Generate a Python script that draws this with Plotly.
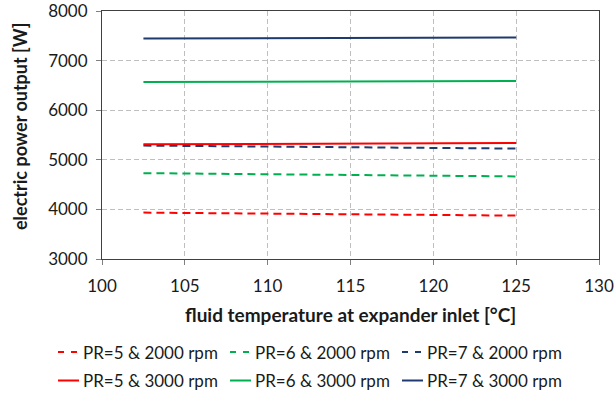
import plotly.graph_objects as go

# Fluid temperature at expander inlet [°C]
temperature = [102.5, 107.5, 112.5, 117.5, 122.5, 125.0]

# Electric power output [W] per pressure ratio and rotational speed
pr5_2000 = [3935, 3922, 3910, 3897, 3884, 3875]
pr6_2000 = [4731, 4718, 4704, 4690, 4676, 4665]
pr7_2000 = [5287, 5274, 5260, 5247, 5235, 5226]
pr5_3000 = [5313, 5318, 5324, 5330, 5336, 5340]
pr6_3000 = [6570, 6574, 6578, 6582, 6587, 6590]
pr7_3000 = [7445, 7449, 7454, 7458, 7462, 7465]

series = [
    ("PR=5 & 2000 rpm", pr5_2000, "#FF0000", True),
    ("PR=6 & 2000 rpm", pr6_2000, "#00B050", True),
    ("PR=7 & 2000 rpm", pr7_2000, "#1F3A6E", True),
    ("PR=5 & 3000 rpm", pr5_3000, "#FF0000", False),
    ("PR=6 & 3000 rpm", pr6_3000, "#00B050", False),
    ("PR=7 & 3000 rpm", pr7_3000, "#1F3A6E", False),
]

font_family = "Lato, 'Open Sans', sans-serif"
text_color = "#1a1a1a"

# plot area in pixels (used to place the legend block below the axes)
W, H = 616, 397
L, R, T, B = 102, 17, 11, 138
plot_w, plot_h = W - L - R, H - T - B


def px_to_paper(px, py):
    return (px - L) / plot_w, (H - B - py) / plot_h


fig = go.Figure()
for i, (name, values, color, dashed) in enumerate(series):
    fig.add_trace(go.Scatter(
        x=temperature, y=values, name=name, mode="lines", showlegend=False,
        line=dict(color=color, width=2, dash="8px,5px" if dashed else "solid"),
    ))

    # legend key: three entries per row, two rows
    row, col = divmod(i, 3)
    ky = 352 + 28.5 * row
    kx0 = 58 + 172 * col
    x0, yk = px_to_paper(kx0, ky)
    x1, _ = px_to_paper(kx0 + 21, ky)
    fig.add_shape(
        type="line", xref="paper", yref="paper", x0=x0, x1=x1, y0=yk, y1=yk,
        line=dict(color=color, width=2, dash="6px,7px" if dashed else "solid"),
    )
    xt, _ = px_to_paper(kx0 + 23, ky)
    fig.add_annotation(
        text=name, xref="paper", yref="paper", x=xt, y=yk,
        xanchor="left", yanchor="middle", showarrow=False,
        font=dict(size=17, color=text_color, family=font_family),
    )

grid = dict(showgrid=True, gridcolor="#BFBFBF", gridwidth=1, griddash="5px,3px")

fig.update_xaxes(
    range=[100, 130], dtick=5, tick0=100,
    ticks="outside", ticklen=5, tickcolor="#808080", ticklabelstandoff=7,
    ticklabeloverflow="allow",
    showline=True, linecolor="#404040", linewidth=1, mirror=True,
    tickfont=dict(size=17, color=text_color), zeroline=False, **grid,
)
fig.update_yaxes(
    range=[3000, 8000], dtick=1000, tick0=3000,
    ticks="outside", ticklen=5, tickcolor="#808080", ticklabelstandoff=5,
    ticklabeloverflow="allow",
    showline=True, linecolor="#404040", linewidth=1, mirror=True,
    tickfont=dict(size=17, color=text_color), zeroline=False,
    **grid,
)

tx, ty = px_to_paper(350.5, 314)
fig.add_annotation(
    text="<b>fluid temperature at expander inlet [°C]</b>",
    xref="paper", yref="paper", x=tx, y=ty,
    xanchor="center", yanchor="middle", showarrow=False,
    font=dict(size=19, color=text_color, family=font_family),
)
yx, yy = px_to_paper(20, 127)
fig.add_annotation(
    text="<b>electric power output [W]</b>", textangle=-90,
    xref="paper", yref="paper", x=yx, y=yy,
    xanchor="center", yanchor="middle", showarrow=False,
    font=dict(size=18, color=text_color, family=font_family),
)

fig.update_layout(
    width=W, height=H,
    margin=dict(l=L, r=R, t=T, b=B, autoexpand=False),
    paper_bgcolor="white", plot_bgcolor="white",
    font=dict(family=font_family, color=text_color),
    showlegend=False,
)

fig.write_html("out.html")
